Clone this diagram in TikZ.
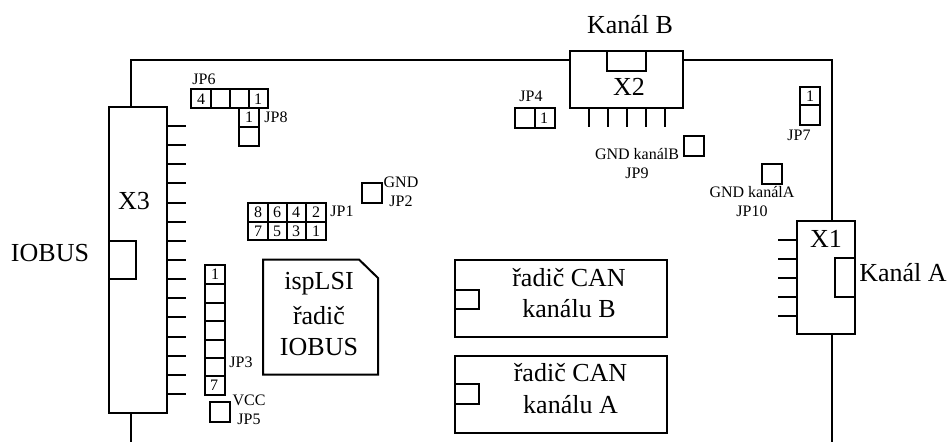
\documentclass[tikz,border=0pt]{standalone}
\usepackage{fontspec}
\setmainfont{Liberation Serif}
\tikzset{big/.style={font=\fontsize{19.5pt}{22pt}\selectfont,inner sep=0pt},
    small/.style={font=\fontsize{12pt}{14pt}\selectfont,inner sep=0pt}}
\begin{document}
\begin{tikzpicture}[x=0.75pt,y=-0.75pt,line width=1.5pt]
    \useasboundingbox (0,0) rectangle (948,442);
    % Draw connectors
    \draw (109,107) coordinate (x3_nw) rectangle (167,413) coordinate (x3_se);
    \draw (570,51) coordinate (x2_nw) rectangle (683,108) coordinate (x2_se);
    \draw (797,221) coordinate (x1_nw) rectangle (855,334) coordinate (x1_se);
    \draw (109,241) rectangle (136,279);
    \draw (607,51) rectangle (646,71);
    \draw (835,258) rectangle (855,297);
    % Draw board edge
    \draw (x3_nw -| 131,0) |- (x2_nw |- 0,60);
    \draw (x2_se |- 0,60) -| (x1_nw -| 832,0);
    \draw (x1_se -| 832,0) -- (832,442);
    \draw (x3_se -| 131,0) -- (131,442);
    % Draw pins
    \foreach \i in {0,...,14}
        \draw (167,126+19.14*\i) -- (186,126+19.14*\i);
    \foreach \x in {589,608,627,646,665}
        \draw (\x,108) -- (\x,127);
    \foreach \y in {239.5,258.5,277.5,296.5,315.5}
        \draw (778,\y) -- (797,\y);
    \node[big] (x3) at (134,201) {X3};
    \node[big] (x2) at (629,87) {X2};
    \node[big] (x1) at (826,239) {X1};
    \node[big] (iobus) at (50,253) {IOBUS};
    \node[big] (kanalb) at (630,25) {Kanál B};
    \node[big] (kanala) at (903,273) {Kanál A};
    % Draw jumpers
    \draw (191,89) rectangle (268,108);
    \foreach \x in {211,230,249}
        \draw (\x,89) -- (\x,108);
    \node[small] (jp6) at (204,79) {JP6};
    \node[small] (jp6a) at (201,99) {4};
    \node[small] (jp6b) at (258,99) {1};
    \draw (239,108) rectangle (259,146);
    \draw (239,127) -- (259,127);
    \node[small] (jp8a) at (249,117) {1};
    \node[small] (jp8) at (276,117) {JP8};
    \draw (248,203) rectangle (326,240);
    \draw (248,221.5) -- (326,221.5);
    \foreach \x/\t/\b [count=\i] in {258/8/7,277/6/5,296/4/3,316/2/1} {
        \draw (\x+10,203) -- (\x+10,240);
        \node[small] (jp1t\i) at (\x,212) {\t};
        \node[small] (jp1b\i) at (\x,231) {\b};
    }
    \node[small] (jp1) at (342,211) {JP1};
    \draw (362,183) rectangle (382,203);
    \node[small] (gnd) at (401,182) {GND};
    \node[small] (jp2) at (401,201) {JP2};
    \draw (205,265) rectangle (225,395);
    \foreach \y in {284,302.5,321,339.5,358,376}
        \draw (205,\y) -- (225,\y);
    \node[small] (jp3a) at (215,274) {1};
    \node[small] (jp3b) at (214,385) {7};
    \node[small] (jp3) at (241,362) {JP3};
    \draw (210,402) rectangle (230,422);
    \node[small] (vcc) at (249,400) {VCC};
    \node[small] (jp5) at (249,419) {JP5};
    \draw (515,108) rectangle (555,128);
    \draw (535,108) -- (535,128);
    \node[small] (jp4a) at (544,118) {1};
    \node[small] (jp4) at (531,96) {JP4};
    \draw (800,87) rectangle (820,125);
    \draw (800,105.5) -- (820,105.5);
    \node[small] (jp7a) at (810,96) {1};
    \node[small] (jp7) at (799,135) {JP7};
    \draw (684,136) rectangle (704,156);
    \node[small] (gndb) at (637,154) {GND kanálB};
    \node[small] (jp9) at (637,173) {JP9};
    \draw (762,164) rectangle (782,184);
    \node[small] (gnda) at (752,192) {GND kanálA};
    \node[small] (jp10) at (752,211) {JP10};
    % Draw chips
    \draw (263,259.5) -- (359,259.5) -- (378,278) -- (378,374.5) -- (263,374.5) -- cycle;
    \node[big] (isp1) at (319,284) {ispLSI};
    \node[big] (isp2) at (319,316) {řadič};
    \node[big] (isp3) at (319,347) {IOBUS};
    \draw (454.5,259.5) rectangle (667,336.5);
    \draw (454.5,289.5) rectangle (479,309);
    \node[big] (canb1) at (569,278) {řadič CAN};
    \node[big] (canb2) at (569,309) {kanálu B};
    \draw (454.5,355.5) rectangle (667,432.5);
    \draw (454.5,384) rectangle (479,404);
    \node[big] (cana1) at (570.5,373) {řadič CAN};
    \node[big] (cana2) at (570.5,405) {kanálu A};
\end{tikzpicture}
\end{document}
